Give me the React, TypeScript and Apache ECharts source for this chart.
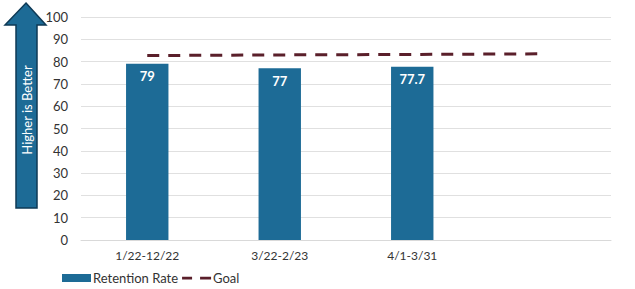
import React, { useEffect, useRef } from "react";
import * as echarts from "echarts";

const categories = ["1/22-12/22", "3/22-2/23", "4/1-3/31", ""];
const retentionRate = [79, 77, 77.7, null];
const goal = [82.7, 83.0, 83.2, 83.5];
const yTicks = { min: 0, max: 100, interval: 10 };

export default function App() {
  const ref = useRef<HTMLDivElement>(null);
  useEffect(() => {
    if (!ref.current) return;
    const chart = echarts.init(ref.current, null, { renderer: "svg" });
    const font = "Lato, 'Open Sans', sans-serif";
    const goalIcon =
      "path://M0,0h0.01v0.01h-0.01z M0,2.8h10v2.6h-10z M18,2.8h11v2.6h-11z M28.99,7.99h0.01v0.01h-0.01z";
    chart.setOption({
      animation: false,
      textStyle: { fontFamily: font },
      grid: { left: 81, right: 24, top: 17, bottom: 49, containLabel: false },
      legend: {
        left: 62,
        top: 270,
        padding: 0,
        itemWidth: 29,
        itemHeight: 8,
        itemGap: 4,
        textStyle: { fontSize: 13, color: "#333", fontFamily: font, lineHeight: 16, padding: [0, 0, 0, -3] },
        data: [
          { name: "Retention Rate", icon: "rect" },
          { name: "Goal", icon: goalIcon, itemStyle: { color: "#5a1f2a" } },
        ],
      },
      xAxis: {
        type: "category",
        data: categories,
        axisLine: { show: true, lineStyle: { color: "#d9d9d9" } },
        axisTick: { show: false },
        axisLabel: { fontSize: 12, color: "#333", margin: 9 },
      },
      yAxis: {
        type: "value",
        min: yTicks.min,
        max: yTicks.max,
        interval: yTicks.interval,
        axisLine: { show: false },
        axisTick: { show: false },
        axisLabel: { fontSize: 13, color: "#333", margin: 13 },
        splitLine: { lineStyle: { color: "#e0e0e0", width: 1 } },
      },
      graphic: [
        {
          type: "polygon",
          shape: {
            points: [
              [26, 3],
              [46, 25],
              [37, 25],
              [37, 208],
              [16, 208],
              [16, 25],
              [5, 25],
            ],
          },
          style: { fill: "#1d6b96", stroke: "#0e3a56", lineWidth: 1.5 },
          z: 10,
        },
        {
          type: "text",
          x: 27,
          y: 110,
          rotation: Math.PI / 2,
          style: {
            text: "Higher is Better",
            fill: "#ffffff",
            font: `13px ${font}`,
            align: "center",
            verticalAlign: "middle",
          },
          z: 11,
        },
      ],
      series: [
        {
          name: "Retention Rate",
          type: "bar",
          data: retentionRate,
          barWidth: "32%",
          itemStyle: { color: "#1d6b96" },
          label: {
            show: true,
            position: "insideTop",
            distance: 6,
            color: "#ffffff",
            fontWeight: "bold",
            fontSize: 13,
          },
        },
        {
          name: "Goal",
          type: "line",
          data: goal,
          symbol: "none",
          lineStyle: { color: "#5a1f2a", width: 3, type: [12, 9] },
          itemStyle: { color: "#5a1f2a" },
        },
      ],
    });
    return () => chart.dispose();
  }, []);
  return (
    <div
      ref={ref}
      style={{ position: "fixed", left: 0, top: 0, width: 635, height: 289, background: "#fff" }}
    />
  );
}
